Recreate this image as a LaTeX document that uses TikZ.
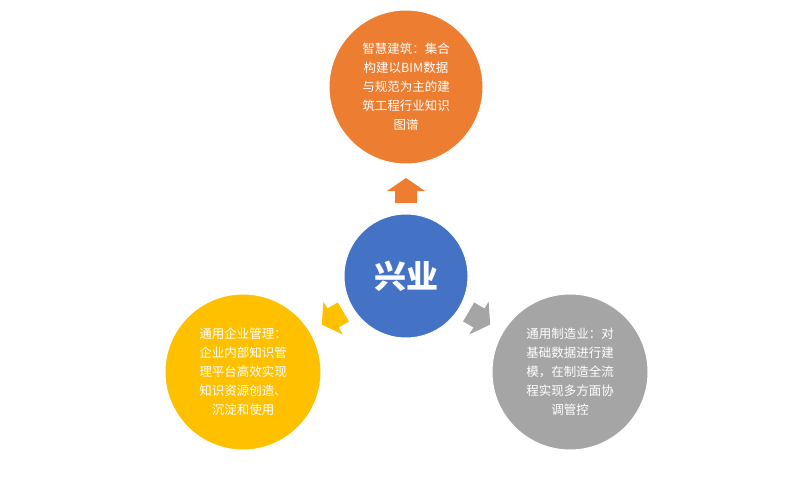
\documentclass[tikz,border=0pt]{standalone}
\usepackage{fontspec}
\setmainfont{Noto Sans CJK SC}
\definecolor{corange}{HTML}{ED7D31}
\definecolor{cblue}{HTML}{4472C4}
\definecolor{cgold}{HTML}{FFC000}
\definecolor{cgray}{HTML}{A5A5A5}
\tikzset{
  circ/.style={circle,draw=white,line width=1pt,text=white,align=center,inner sep=0pt,font=\fontsize{12.5}{19}\selectfont},
  blockarrow/.pic={\fill[#1] (0,-13)--(19,0)--(11,0)--(11,12)--(-11,12)--(-11,0)--(-19,0)--cycle;}
}
\begin{document}
\begin{tikzpicture}[x=1pt,y=-1pt]
\useasboundingbox (0,0) rectangle (808,500);
\node[circ,fill=cblue,minimum size=124pt,font=\fontsize{32}{36}\bfseries\selectfont] (c) at (406,276) {兴业};
\node[circ,fill=corange,minimum size=154pt] (t) at (406,87) {智慧建筑：集合\\构建以BIM数据\\与规范为主的建\\筑工程行业知识\\图谱};
\node[circ,fill=cgold,minimum size=156pt] (l) at (243,372) {通用企业管理：\\企业内部知识管\\理平台高效实现\\知识资源创造、\\沉淀和使用};
\node[circ,fill=cgray,minimum size=156pt] (r) at (570,372) {通用制造业：对\\基础数据进行建\\模，在制造全流\\程实现多方面协\\调管控};
\pic at (406,191) {blockarrow=corange};
\pic[rotate=120.4] at (333,318) {blockarrow=cgold};
\pic[rotate=-120.4] at (479,318) {blockarrow=cgray};
\end{tikzpicture}
\end{document}
